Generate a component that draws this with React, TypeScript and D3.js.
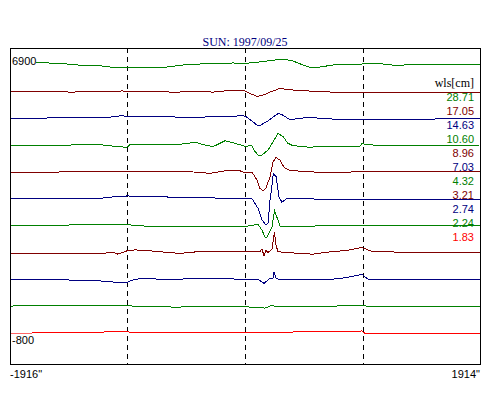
import React from 'react';
import * as d3 from 'd3';

// 太陽 円盤横断プロファイル (arcsec, 基線からのずれ)
const title = 'SUN: 1997/09/25';
const xRange = [-1916, 1914];
const yRange = [-800, 6900];
const limbMarks = [-960, 0, 960];

const wavelengths = ['28.71', '17.05', '14.63', '10.60', '8.96', '7.03', '4.32', '3.21', '2.74', '2.24', '1.83'];
const traceColors = ['#008000', '#800000', '#000080', '#008000', '#800000', '#000080', '#008000', '#800000', '#000080', '#008000', '#ff0000'];
const offsets = [6900, 6110, 5360, 4570, 3810, 3040, 2270, 1520, 750, -30, -800];

const p2871 = [[-1916, 37], [-1704, 37], [-1620, 30], [-1509, 20], [-1362, -29], [-1250, -35], [-1183, -49], [-1085, -94], [-954, -114], [-857, -114], [-760, -105], [-637, -86], [-506, -29], [-368, 0], [-300, 5], [-240, 20], [-99, 29], [0, 20], [80, 40], [178, 86], [260, 123], [325, 134], [390, 86], [472, -29], [529, -94], [610, -86], [716, -29], [952, 0], [1042, 29], [1124, 0], [1221, -37], [1466, -10], [1914, -10]];
const p1705 = [[-1916, 0], [-1500, 0], [-1420, -15], [-1183, 15], [-1100, 0], [-1000, 20], [-963, 10], [-555, -15], [-368, 15], [-262, -15], [-99, 43], [-17, 30], [0, 15], [40, -51], [97, -137], [146, -100], [203, -15], [284, 92], [366, 51], [447, 34], [569, 6], [773, -23], [1262, -15], [1914, -15]];
const p1463 = [[-1916, -10], [-1620, -10], [-1600, 20], [-1100, 20], [-1020, 57], [-963, 50], [-775, 49], [-449, 10], [-286, 29], [-123, 49], [-17, 57], [0, 49], [40, -49], [105, -229], [121, -220], [187, -86], [268, 123], [300, 94], [366, -57], [447, -10], [529, 10], [610, -10], [773, -49], [1001, -43], [1262, -43], [1914, -20]];
const p1060 = [[-1916, -6], [-1183, 23], [-1036, -34], [-963, -51], [-938, 29], [-531, 34], [-408, 92], [-327, 14], [-262, -34], [-164, 134], [-99, 80], [0, -23], [56, -6], [81, -177], [114, -300], [138, -272], [187, -129], [243, 200], [268, 349], [309, 252], [349, 63], [390, -6], [447, -23], [529, -51], [610, -23], [936, -23], [952, 51], [1018, 23], [1099, -14], [1262, -14], [1914, 14]];
const p896 = [[-1916, -10], [-1240, 10], [-963, 29], [-449, 10], [-286, -37], [-164, 37], [-42, 37], [0, -20], [56, 0], [97, -229], [121, -466], [146, -535], [170, -458], [203, -134], [227, 286], [252, 415], [284, 343], [317, 134], [366, 37], [447, 29], [569, 0], [773, 0], [1262, 10], [1914, 10]];
const p703 = [[-1916, 10], [-1183, 20], [-1036, 77], [-963, 86], [-694, 77], [-571, 37], [-368, 57], [-123, 0], [0, 15], [56, 10], [105, -266], [138, -600], [170, -744], [187, -678], [203, -29], [219, 400], [230, 735], [252, 638], [276, 66], [300, -94], [333, 0], [447, 10], [773, -20], [1262, -15], [1914, -10]];
const p432 = [[-1916, 0], [-1020, 49], [-963, 49], [-897, 0], [-571, -10], [-42, -10], [40, 0], [105, 49], [138, -123], [162, -323], [178, -323], [219, -29], [239, 435], [268, 163], [284, -10], [447, -10], [773, 10], [1914, 5]];
const p321 = [[-1916, -37], [-1142, -29], [-1077, 0], [-1036, -57], [-963, 37], [-897, 66], [-775, 37], [-531, -37], [-368, 20], [40, 20], [121, 10], [138, 94], [154, -114], [170, 57], [187, -10], [219, 86], [239, 580], [252, 200], [268, 10], [447, -37], [553, -57], [692, 10], [830, 49], [952, 134], [1034, 20], [1262, 0], [1914, 0]];
const p274 = [[-1916, 0], [-1240, -37], [-1036, -94], [-963, -94], [-897, 0], [-775, 10], [-571, -20], [-449, 20], [-42, 0], [105, -10], [154, -123], [203, 20], [227, 29], [235, 209], [252, 29], [268, 0], [692, -10], [814, 37], [952, 134], [1001, 0], [1914, 0]];
const p224 = [[-1916, 10], [-963, 29], [-897, 0], [-571, -20], [-42, 0], [162, -49], [219, 29], [243, 0], [692, 0], [855, 29], [952, 37], [1001, 0], [1914, 0]];
const p183 = [[-1916, 0], [-963, 46], [-938, 29], [0, 17], [952, 66], [977, 0], [1466, -10], [1873, -20], [1914, 0]];

const profiles = [p2871, p1705, p1463, p1060, p896, p703, p432, p321, p274, p224, p183];

const W = 500;
const H = 400;
const box = { left: 10, right: 480, top: 48, bottom: 364 };

const App = () => {
    const x = d3.scaleLinear().domain(xRange).range([box.left, box.right]);
    const y = d3.scaleLinear().domain(yRange).range([333.3, 64]);

    const sans = '"Liberation Sans", Arial, sans-serif';
    const serif = '"Liberation Serif", "Times New Roman", serif';

    const legendTop = 100.7;
    const legendStep = 14;

    return (
        <svg width={W} height={H} style={{ position: 'absolute', left: 0, top: 0, background: '#fff' }}>
            <text x={(box.left + box.right) / 2} y={45.5} textAnchor="middle" fontFamily={serif} fontSize={12} fill="#000080">
                {title}
            </text>

            {limbMarks.map(d => (
                <line key={d} x1={Math.round(x(d)) + 0.5} x2={Math.round(x(d)) + 0.5} y1={box.top} y2={box.bottom}
                      stroke="#000" strokeDasharray="5,4" shapeRendering="crispEdges" />
            ))}

            {profiles.map((pts, i) => {
                const line = d3.line<number[]>()
                    .x(d => x(d[0]))
                    .y(d => y(offsets[i] + d[1]));
                return <path key={i} d={line(pts) || ''} fill="none" stroke={traceColors[i]} strokeWidth={1}
                             shapeRendering="crispEdges" />;
            })}

            {/* 軸端のラベル (白抜き) */}
            <rect x={box.left + 1} y={y(6900) - 9} width={25} height={10} fill="#fff" />
            <text x={12} y={y(6900) + 0.5} fontFamily={sans} fontSize={11} fill="#000">6900</text>
            <rect x={box.left + 1} y={y(-800) + 0.3} width={24} height={13} fill="#fff" />
            <text x={12} y={y(-800) + 10.7} fontFamily={sans} fontSize={11} fill="#000">-800</text>

            <text x={474} y={87} textAnchor="end" fontFamily={serif} fontSize={12} fill="#000">wls[cm]</text>
            {wavelengths.map((w, i) => (
                <text key={w} x={474} y={legendTop + i * legendStep} textAnchor="end" fontFamily={sans} fontSize={11} fill={traceColors[i]}>
                    {w}
                </text>
            ))}

            <rect x={box.left + 0.5} y={box.top + 0.5} width={box.right - box.left} height={box.bottom - box.top}
                  fill="none" stroke="#000" strokeWidth={1} shapeRendering="crispEdges" />

            <text x={box.left} y={377.5} fontFamily={sans} fontSize={11} fill="#000">{`${xRange[0]}"`}</text>
            <text x={box.right} y={377.5} textAnchor="end" fontFamily={sans} fontSize={11} fill="#000">{`${xRange[1]}"`}</text>
        </svg>
    );
};

export default App;
